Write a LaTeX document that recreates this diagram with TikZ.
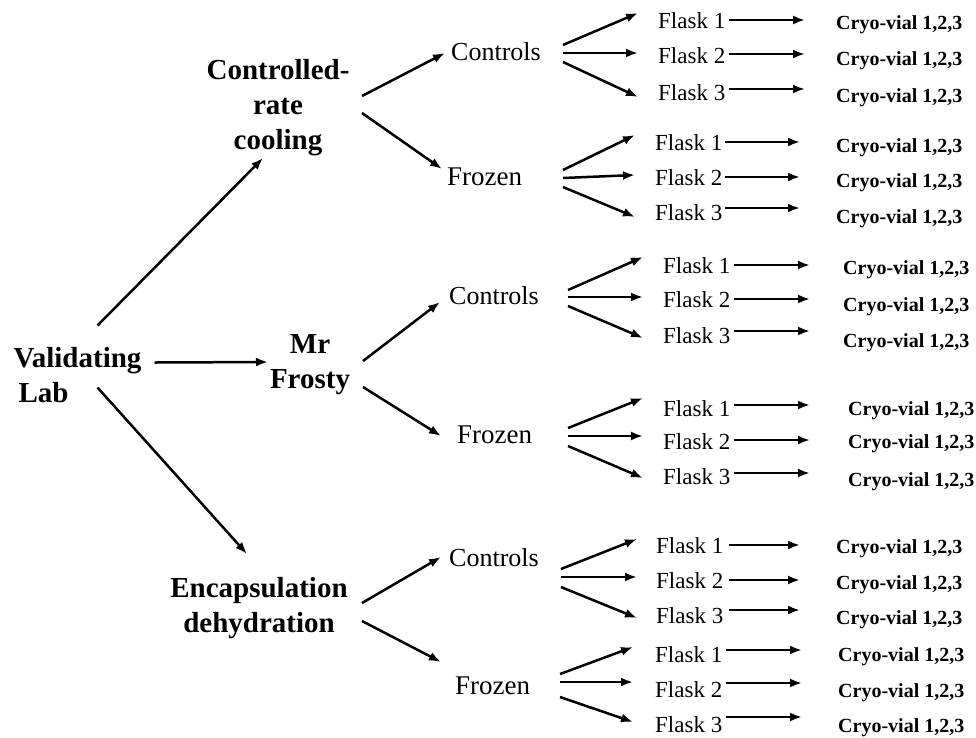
\documentclass[tikz,border=0pt]{standalone}
\usepackage{fontspec}
\setmainfont{Liberation Serif}
\usetikzlibrary{arrows.meta,calc}
\tikzset{
  arr/.style={line width=2.5pt,-{Latex[length=12pt,width=9pt]}},
  big/.style={font=\fontsize{29}{35}\selectfont\bfseries,align=center,inner sep=0pt},
  ctl/.style={font=\fontsize{26}{30}\selectfont,anchor=base west,inner sep=0pt},
  frz/.style={font=\fontsize{27}{30}\selectfont,anchor=base west,inner sep=0pt},
  flask/.style={font=\fontsize{23}{27}\selectfont,anchor=base west,inner sep=0pt},
  cryo/.style={font=\fontsize{20}{24}\selectfont\bfseries,anchor=base west,inner sep=0pt},
}
\newcommand\linkarrow[5]{%
  \path ($(#1.base east)+(#3,#4)$) coordinate (s#1);
  \draw[arr,shorten >=#5pt] (s#1) -- (s#1 -| #2.west);}
\begin{document}
\begin{tikzpicture}[x=1pt,y=-1pt]
\useasboundingbox (0,0) rectangle (976,737);
% main labels
\node[big,align=left] (val) at (77.5,375.5) {Validating\\\hspace*{5pt}Lab};
\node[big] (crc) at (278,108) {Controlled-\\rate\\cooling};
\node[big] (fro) at (310,365) {Mr\\Frosty};
\node[big] (enc) at (259,608) {Encapsulation\\dehydration};
% second level
\node[ctl] (ctlA) at (451,60) {Controls};
\node[frz] (frzA) at (447,185) {Frozen};
\node[ctl] (ctlB) at (449,304) {Controls};
\node[frz] (frzB) at (457,443) {Frozen};
\node[ctl] (ctlC) at (449,566) {Controls};
\node[frz] (frzC) at (455,694) {Frozen};
% main arrows
\draw[arr] ($(val.center)+(20,-50)$) -- ($(crc.center)+(-15,50)$);
\draw[arr] ($(val.center)+(77,-13)$) -- ($(fro.center)+(-42,-3)$);
\draw[arr] ($(val.center)+(20,12)$) -- ($(enc.center)+(-12,-54)$);
\draw[arr] ($(crc.center)+(84,-12)$) -- ($(ctlA.base west)+(-6,-7)$);
\draw[arr] ($(crc.center)+(84,5)$) -- ($(frzA.base west)+(-5,-16)$);
\draw[arr] ($(fro.center)+(53,-4)$) -- ($(ctlB.base west)+(-9,-2)$);
\draw[arr] ($(fro.center)+(53,22)$) -- ($(frzB.base west)+(-16,-7)$);
\draw[arr] ($(enc.center)+(103,-5)$) -- ($(ctlC.base west)+(-8,-9)$);
\draw[arr] ($(enc.center)+(103,13)$) -- ($(frzC.base west)+(-14,-32)$);
% ---------- group A
\node[flask] (fA1) at (658,28) {Flask 1};
\node[flask] (fA2) at (658,63) {Flask 2};
\node[flask] (fA3) at (658,100) {Flask 3};
\node[cryo] (cA1) at (836,29) {Cryo-vial 1,2,3};
\node[cryo] (cA2) at (836,65) {Cryo-vial 1,2,3};
\node[cryo] (cA3) at (836,102) {Cryo-vial 1,2,3};
\draw[arr] ($(ctlA.base west)+(112,-15)$) -- ($(fA1.base west)+(-20,-15)$);
\draw[arr] ($(ctlA.base west)+(112,-7)$) -- ($(fA2.base west)+(-20,-10)$);
\draw[arr] ($(ctlA.base west)+(112,2)$) -- ($(fA3.base west)+(-20,-3)$);
\linkarrow{fA1}{cA1}{3}{-8}{31}
\linkarrow{fA2}{cA2}{3}{-9}{31}
\linkarrow{fA3}{cA3}{3}{-11}{31}
% ---------- group B
\node[flask] (fB1) at (655,150) {Flask 1};
\node[flask] (fB2) at (655,185) {Flask 2};
\node[flask] (fB3) at (655,220) {Flask 3};
\node[cryo] (cB1) at (836,152) {Cryo-vial 1,2,3};
\node[cryo] (cB2) at (836,187) {Cryo-vial 1,2,3};
\node[cryo] (cB3) at (836,223) {Cryo-vial 1,2,3};
\draw[arr] ($(frzA.base west)+(116,-15)$) -- ($(fB1.base west)+(-20,-15)$);
\draw[arr] ($(frzA.base west)+(116,-7)$) -- ($(fB2.base west)+(-20,-10)$);
\draw[arr] ($(frzA.base west)+(116,2)$) -- ($(fB3.base west)+(-20,-3)$);
\linkarrow{fB1}{cB1}{2}{-8}{36}
\linkarrow{fB2}{cB2}{2}{-8}{36}
\linkarrow{fB3}{cB3}{2}{-12}{36}
% ---------- group C
\node[flask] (fC1) at (663,273) {Flask 1};
\node[flask] (fC2) at (663,307) {Flask 2};
\node[flask] (fC3) at (663,343) {Flask 3};
\node[cryo] (cC1) at (843,274) {Cryo-vial 1,2,3};
\node[cryo] (cC2) at (843,311) {Cryo-vial 1,2,3};
\node[cryo] (cC3) at (843,347) {Cryo-vial 1,2,3};
\draw[arr] ($(ctlB.base west)+(119,-14)$) -- ($(fC1.base west)+(-20,-16)$);
\draw[arr] ($(ctlB.base west)+(119,-7)$) -- ($(fC2.base west)+(-20,-10)$);
\draw[arr] ($(ctlB.base west)+(119,2)$) -- ($(fC3.base west)+(-20,-5)$);
\linkarrow{fC1}{cC1}{3}{-8}{33}
\linkarrow{fC2}{cC2}{3}{-8}{33}
\linkarrow{fC3}{cC3}{3}{-12}{33}
% ---------- group D
\node[flask] (fD1) at (663,416) {Flask 1};
\node[flask] (fD2) at (663,449) {Flask 2};
\node[flask] (fD3) at (663,484) {Flask 3};
\node[cryo] (cD1) at (848,415) {Cryo-vial 1,2,3};
\node[cryo] (cD2) at (848,448) {Cryo-vial 1,2,3};
\node[cryo] (cD3) at (848,486) {Cryo-vial 1,2,3};
\draw[arr] ($(frzB.base west)+(111,-15)$) -- ($(fD1.base west)+(-20,-18)$);
\draw[arr] ($(frzB.base west)+(111,-7)$) -- ($(fD2.base west)+(-20,-13)$);
\draw[arr] ($(frzB.base west)+(111,3)$) -- ($(fD3.base west)+(-20,-6)$);
\linkarrow{fD1}{cD1}{3}{-11}{38}
\linkarrow{fD2}{cD2}{3}{-9}{38}
\linkarrow{fD3}{cD3}{3}{-11}{38}
% ---------- group E
\node[flask] (fE1) at (656,553) {Flask 1};
\node[flask] (fE2) at (656,588) {Flask 2};
\node[flask] (fE3) at (656,623) {Flask 3};
\node[cryo] (cE1) at (836,553) {Cryo-vial 1,2,3};
\node[cryo] (cE2) at (836,589) {Cryo-vial 1,2,3};
\node[cryo] (cE3) at (836,624) {Cryo-vial 1,2,3};
\draw[arr] ($(ctlC.base west)+(112,3)$) -- ($(fE1.base west)+(-19,-14)$);
\draw[arr] ($(ctlC.base west)+(112,11)$) -- ($(fE2.base west)+(-19,-11)$);
\draw[arr] ($(ctlC.base west)+(112,21)$) -- ($(fE3.base west)+(-19,-5)$);
\linkarrow{fE1}{cE1}{5}{-8}{36}
\linkarrow{fE2}{cE2}{5}{-8}{36}
\linkarrow{fE3}{cE3}{5}{-13}{36}
% ---------- group F
\node[flask] (fF1) at (655,662) {Flask 1};
\node[flask] (fF2) at (655,697) {Flask 2};
\node[flask] (fF3) at (655,732) {Flask 3};
\node[cryo] (cF1) at (838,661) {Cryo-vial 1,2,3};
\node[cryo] (cF2) at (838,697) {Cryo-vial 1,2,3};
\node[cryo] (cF3) at (838,732) {Cryo-vial 1,2,3};
\draw[arr] ($(frzC.base west)+(105,-20)$) -- ($(fF1.base west)+(-22,-15)$);
\draw[arr] ($(frzC.base west)+(105,-12)$) -- ($(fF2.base west)+(-22,-15)$);
\draw[arr] ($(frzC.base west)+(105,3)$) -- ($(fF3.base west)+(-22,-10)$);
\linkarrow{fF1}{cF1}{3}{-12}{36}
\linkarrow{fF2}{cF2}{3}{-14}{36}
\linkarrow{fF3}{cF3}{3}{-15}{36}
\end{tikzpicture}
\end{document}
